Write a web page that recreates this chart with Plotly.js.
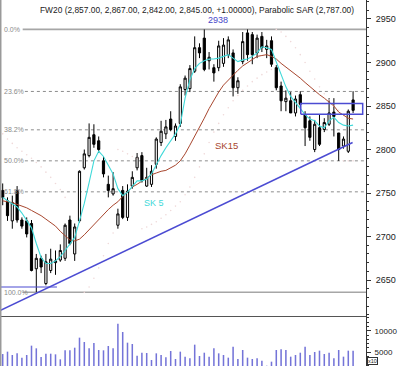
<!DOCTYPE html>
<html>
<head>
<meta charset="utf-8">
<script src="https://cdn.plot.ly/plotly-3.0.1.min.js"></script>
<style>html,body{margin:0;padding:0;background:#fff;}#chart{width:400px;height:367px;}</style>
</head>
<body>
<div id="chart"></div>
<script>
// ---- data ----
const titleText = 'FW20 (2,857.00, 2,867.00, 2,842.00, 2,845.00, +1.00000), Parabolic SAR (2,787.00)';
const opens  = [2753,2741,2718,2753,2719,2718,2715,2663,2675,2646,2661,2670,2673,2675,2719,2680,2718,2779,2793,2817,2810,2787,2760,2749,2713,2753,2722,2758,2779,2793,2758,2760,2783,2808,2818,2835,2815,2830,2869,2870,2890,2917,2928,2902,2894,2894,2899,2909,2911,2871,2901,2934,2932,2911,2930,2915,2925,2894,2873,2855,2856,2842,2863,2840,2833,2800,2825,2823,2829,2843,2819,2804,2798,2857];
const highs  = [2761,2745,2747,2758,2722,2722,2719,2680,2678,2680,2686,2684,2691,2715,2724,2715,2776,2800,2830,2829,2815,2792,2770,2774,2732,2758,2760,2775,2796,2797,2779,2782,2814,2833,2834,2844,2830,2875,2885,2897,2930,2922,2938,2912,2898,2925,2928,2930,2915,2883,2935,2938,2935,2932,2935,2926,2930,2897,2878,2868,2866,2862,2867,2844,2838,2834,2840,2836,2859,2859,2819,2815,2846,2867];
const lows   = [2736,2718,2709,2716,2709,2699,2660,2636,2658,2644,2658,2656,2671,2672,2690,2672,2716,2777,2791,2802,2796,2768,2745,2747,2709,2720,2718,2755,2776,2762,2757,2757,2778,2804,2812,2821,2810,2826,2862,2866,2888,2905,2890,2892,2878,2890,2895,2905,2861,2864,2898,2902,2898,2905,2912,2905,2895,2868,2844,2844,2842,2838,2849,2804,2810,2797,2804,2820,2827,2815,2787,2801,2796,2842];
const closes = [2745,2724,2739,2719,2712,2703,2661,2675,2665,2671,2674,2672,2684,2713,2692,2711,2775,2795,2814,2806,2800,2772,2753,2755,2726,2722,2752,2768,2791,2764,2768,2775,2812,2821,2826,2823,2827,2872,2882,2893,2917,2911,2892,2906,2888,2919,2920,2926,2871,2879,2924,2909,2909,2928,2917,2919,2898,2871,2856,2859,2842,2858,2852,2825,2814,2829,2806,2831,2842,2838,2800,2812,2844,2845];
const volumes = [4600,5150,4370,4760,3760,4370,6540,5920,3910,4680,4680,4530,3370,5460,5460,6070,8390,7380,5920,7150,5530,5460,6460,5920,11630,9700,7230,6920,4220,4910,4840,3220,4760,4370,3830,5300,3450,5150,3990,3600,6770,4140,4910,3990,5920,4760,4370,3760,6300,3450,5530,3760,3450,3600,3060,1900,2830,5530,5690,5530,3990,4370,4910,6300,4370,5070,5380,4610,4910,3600,5530,3990,5380,5380];
const sk5  = [2745,2741,2738,2734,2727,2719,2710,2692,2676,2669,2669,2672,2677,2684,2691,2699,2718,2738,2762,2787,2798,2792,2782,2772,2755,2747,2751,2758,2764,2764,2766,2772,2783,2793,2802,2810,2818,2829,2859,2880,2893,2899,2902,2904,2904,2905,2907,2909,2905,2901,2903,2904,2907,2911,2918,2917,2915,2901,2886,2872,2861,2854,2847,2840,2835,2833,2827,2825,2833,2837,2831,2828,2827,2828];
const sk15 = [2741,2740,2739,2737,2735,2733,2730,2727,2724,2720,2716,2712,2706,2701,2696,2695,2697,2702,2708,2713,2719,2726,2731,2736,2740,2746,2752,2757,2760,2764,2768,2771,2773,2775,2776,2779,2782,2787,2795,2805,2815,2825,2836,2847,2857,2866,2874,2880,2886,2891,2896,2900,2904,2907,2908,2909,2907,2904,2899,2895,2891,2886,2882,2877,2872,2867,2863,2859,2855,2850,2843,2839,2836,2835];
const sar  = [2818,2812,2807,2802,2798,2794,2790,2785,2780,2774,2768,2761,2754,2745,null,null,null,2636,2642,2652,2664,2678,2692,2704,2800,2798,2795,2792,2790,2709,2711,2714,2717,2721,2725,2730,2735,2740,2748,2757,2768,2780,2795,2808,2820,2830,2840,2848,2856,2862,2868,2873,2878,2882,2886,2889,2892,2938,2935,2930,2924,2917,2909,2900,2890,2881,2872,2864,2857,2850,2845,2787,2787,2787];
const fibHigh = 2938, fibLow = 2636;
const fibRatios = [0, 0.236, 0.382, 0.5, 0.618, 1];
const fibLabels = ['0.0%', '23.6%', '38.2%', '50.0%', '61.8%', '100.0%'];
const trendX = [-0.56, 72.9], trendY = [2615, 2808];
const supportX = [-0.56, 11.3], supportY = [2642, 2642];
const boxX = [62.1, 75.0], boxY = [2840.5, 2853];
const priceTicks = [2650, 2700, 2750, 2800, 2850, 2900, 2950];
const volTicks = [5000, 10000];

const idx = opens.map((_, i) => i);
const FONT = '"Liberation Sans", Arial, sans-serif';
const BLUE = '#4b4bd2';

const traces = [
  {type: 'bar', x: idx, y: volumes, xaxis: 'x', yaxis: 'y2', width: 0.32,
   marker: {color: '#7474d8', line: {width: 0}}, hoverinfo: 'skip'},
  {type: 'scatter', mode: 'markers', x: idx, y: sar, yaxis: 'y',
   marker: {color: '#efd9d9', size: 1.6}, hoverinfo: 'skip'},
  {type: 'candlestick', x: idx, open: opens, high: highs, low: lows, close: closes, yaxis: 'y',
   increasing: {line: {color: '#000', width: 1}, fillcolor: '#ffffff'},
   decreasing: {line: {color: '#000', width: 1}, fillcolor: '#000000'},
   whiskerwidth: 0, hoverinfo: 'skip'},
  {type: 'scatter', mode: 'lines', x: idx, y: sk15, yaxis: 'y',
   line: {color: '#a8462e', width: 1}, hoverinfo: 'skip'},
  {type: 'scatter', mode: 'lines', x: idx, y: sk5, yaxis: 'y',
   line: {color: '#3fd9d9', width: 1.1}, hoverinfo: 'skip'},
  {type: 'scatter', mode: 'lines', x: trendX, y: trendY, yaxis: 'y',
   line: {color: BLUE, width: 1.5}, hoverinfo: 'skip'},
  {type: 'scatter', mode: 'lines', x: supportX, y: supportY, yaxis: 'y',
   line: {color: BLUE, width: 1.2}, hoverinfo: 'skip'},
  {type: 'scatter', mode: 'lines', x: [boxX[0], boxX[1], boxX[1], boxX[0], boxX[0]],
   y: [boxY[0], boxY[0], boxY[1], boxY[1], boxY[0]], yaxis: 'y',
   line: {color: BLUE, width: 1.5}, hoverinfo: 'skip'}
];

const shapes = fibRatios.map((r, k) => {
  const lvl = fibHigh - r * (fibHigh - fibLow);
  const solid = (r === 0 || r === 1);
  return {type: 'line', layer: 'below', xref: 'paper', yref: 'y',
          x0: solid ? 0.062 : 0.068, x1: 1, y0: lvl, y1: lvl,
          line: {color: solid ? '#a6a6a6' : '#8c8c8c', width: solid ? 1.6 : 1, dash: solid ? 'solid' : 'dot'}};
});
shapes.push({type: 'line', xref: 'paper', yref: 'paper', x0: 0.002, x1: 0.002, y0: 0, y1: 1,
             line: {color: '#9a9a9a', width: 1.5}});

const annotations = fibRatios.map((r, k) => ({
  xref: 'paper', yref: 'y', x: 0.006, y: fibHigh - r * (fibHigh - fibLow),
  xanchor: 'left', yanchor: 'middle', text: fibLabels[k], showarrow: false,
  font: {family: FONT, size: 7, color: '#8a8a8a'}
}));
annotations.push(
  {xref: 'paper', yref: 'paper', x: 0.104, y: 0.973, xanchor: 'left', yanchor: 'middle',
   text: titleText, showarrow: false, font: {family: FONT, size: 8.4, color: '#222'}},
  {xref: 'x', yref: 'y', x: 44.9, y: 2949, text: '2938', showarrow: false,
   font: {family: FONT, size: 9, color: '#4646c8'}},
  {xref: 'x', yref: 'y', x: 31.5, y: 2738, text: 'SK 5', showarrow: false,
   font: {family: FONT, size: 9, color: '#3fd9d9'}},
  {xref: 'x', yref: 'y', x: 46.7, y: 2805, text: 'SK15', showarrow: false,
   font: {family: FONT, size: 9.5, color: '#a8462e'}},
  {xref: 'paper', yref: 'paper', x: 1.003, y: 0.004, xanchor: 'left', yanchor: 'bottom',
   text: 'x10', showarrow: false, bordercolor: '#333', borderwidth: 1, borderpad: 0,
   bgcolor: '#fff', font: {family: FONT, size: 5.5, color: '#222'}}
);

const layout = {
  width: 400, height: 367,
  margin: {l: 0, r: 34, t: 0, b: 1, pad: 0},
  paper_bgcolor: '#ffffff', plot_bgcolor: '#ffffff',
  showlegend: false, dragmode: false,
  boxgap: 0.35,
  xaxis: {range: [-0.5625, 75.69], showticklabels: false, ticks: '', showgrid: false, zeroline: false,
          showline: true, linecolor: '#555', linewidth: 1, rangeslider: {visible: false}, fixedrange: true},
  yaxis: {domain: [0.1366, 1], range: [2608.7, 2971.8], side: 'right', tickvals: priceTicks,
          ticks: 'outside', ticklen: 4, tickcolor: '#333', showline: true, linecolor: '#333', linewidth: 1,
          showgrid: false, zeroline: false, ticklabelstandoff: 3,
          minor: {dtick: 10, tick0: 0, ticks: 'outside', ticklen: 2, tickcolor: '#333', showgrid: false},
          tickfont: {family: FONT, size: 9, color: '#222'}, fixedrange: true},
  yaxis2: {domain: [0, 0.1366], range: [1829, 13403], side: 'right', anchor: 'x', tickvals: volTicks,
           ticktext: volTicks.map(String), ticks: 'outside', ticklen: 4, tickcolor: '#333',
           showline: true, linecolor: '#333', linewidth: 1, showgrid: false, zeroline: false,
           ticklabelstandoff: 2,
           minor: {dtick: 1000, tick0: 0, ticks: 'outside', ticklen: 2, tickcolor: '#333', showgrid: false},
           tickfont: {family: FONT, size: 8, color: '#222'}, fixedrange: true},
  shapes: shapes,
  annotations: annotations
};

Plotly.newPlot('chart', traces, layout, {displayModeBar: false, staticPlot: true});
</script>
</body>
</html>
